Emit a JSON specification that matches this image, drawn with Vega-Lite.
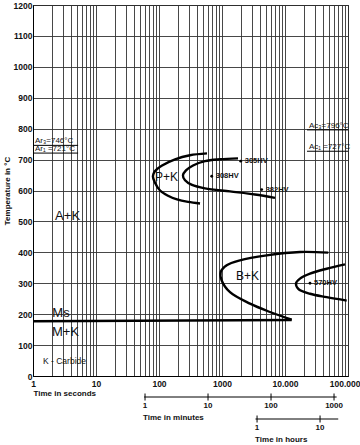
{
  "$schema": "https://vega.github.io/schema/vega-lite/v6.json",
  "padding": {"left": 2, "top": 0, "right": 0, "bottom": 0},
  "background": "white",
  "config": {
    "font": "Liberation Sans",
    "view": {"stroke": "#000", "strokeWidth": 1}
  },
  "spacing": 21,
  "bounds": "flush",
  "datasets": {
    "curves": [
      {"c": "pk1", "i": 1, "t": 578, "T": 720},
      {"c": "pk1", "i": 2, "t": 310, "T": 714},
      {"c": "pk1", "i": 3, "t": 180, "T": 701},
      {"c": "pk1", "i": 4, "t": 112, "T": 681},
      {"c": "pk1", "i": 5, "t": 86, "T": 662},
      {"c": "pk1", "i": 6, "t": 80, "T": 646},
      {"c": "pk1", "i": 7, "t": 86, "T": 626},
      {"c": "pk1", "i": 8, "t": 104, "T": 600},
      {"c": "pk1", "i": 9, "t": 139, "T": 583},
      {"c": "pk1", "i": 10, "t": 193, "T": 571},
      {"c": "pk1", "i": 11, "t": 289, "T": 563},
      {"c": "pk1", "i": 12, "t": 448, "T": 558},
      {"c": "pk2", "i": 1, "t": 1795, "T": 704},
      {"c": "pk2", "i": 2, "t": 929, "T": 701},
      {"c": "pk2", "i": 3, "t": 537, "T": 695},
      {"c": "pk2", "i": 4, "t": 347, "T": 681},
      {"c": "pk2", "i": 5, "t": 268, "T": 665},
      {"c": "pk2", "i": 6, "t": 240, "T": 649},
      {"c": "pk2", "i": 7, "t": 259, "T": 633},
      {"c": "pk2", "i": 8, "t": 334, "T": 618},
      {"c": "pk2", "i": 9, "t": 537, "T": 607},
      {"c": "pk2", "i": 10, "t": 1340, "T": 597},
      {"c": "pk2", "i": 11, "t": 3340, "T": 587},
      {"c": "pk2", "i": 12, "t": 6935, "T": 576},
      {"c": "bk1", "i": 1, "t": 48650, "T": 399},
      {"c": "bk1", "i": 2, "t": 17300, "T": 401},
      {"c": "bk1", "i": 3, "t": 5126, "T": 390},
      {"c": "bk1", "i": 4, "t": 1931, "T": 374},
      {"c": "bk1", "i": 5, "t": 1188, "T": 358},
      {"c": "bk1", "i": 6, "t": 953, "T": 336},
      {"c": "bk1", "i": 7, "t": 989, "T": 309},
      {"c": "bk1", "i": 8, "t": 1340, "T": 271},
      {"c": "bk1", "i": 9, "t": 2782, "T": 234},
      {"c": "bk1", "i": 10, "t": 5780, "T": 207},
      {"c": "bk1", "i": 11, "t": 12770, "T": 182},
      {"c": "bk2", "i": 1, "t": 89600, "T": 361},
      {"c": "bk2", "i": 2, "t": 45900, "T": 347},
      {"c": "bk2", "i": 3, "t": 24940, "T": 331},
      {"c": "bk2", "i": 4, "t": 17300, "T": 315},
      {"c": "bk2", "i": 5, "t": 14960, "T": 300},
      {"c": "bk2", "i": 6, "t": 16260, "T": 282},
      {"c": "bk2", "i": 7, "t": 24940, "T": 266},
      {"c": "bk2", "i": 8, "t": 45900, "T": 255},
      {"c": "bk2", "i": 9, "t": 95300, "T": 244},
      {"c": "ms", "i": 1, "t": 1, "T": 177},
      {"c": "ms", "i": 2, "t": 12770, "T": 181}
    ],
    "hardness": [
      {"label": "305HV", "t": 1982, "T": 695},
      {"label": "308HV", "t": 687, "T": 646},
      {"label": "382HV", "t": 4266, "T": 603},
      {"label": "570HV", "t": 24940, "T": 300}
    ],
    "regions": [
      {"label": "A+K", "t": 3.54, "T": 519},
      {"label": "Ms", "t": 2.78, "T": 204},
      {"label": "M+K", "t": 3.28, "T": 141}
    ],
    "fields": [
      {"label": "P+K", "t": 131.5, "T": 645},
      {"label": "B+K", "t": 2540, "T": 325}
    ],
    "notes": [
      {"label": "K - Carbide", "t": 3.16, "T": 47}
    ],
    "critical": [
      {"label": "Ar₃=746°C", "t": 1, "t2": 5.2, "T": 746},
      {"label": "Ar₁ =721°C", "t": 1, "t2": 5.2, "T": 721},
      {"label": "Ac₃=796°C", "t": 22340, "t2": 100000, "T": 796},
      {"label": "Ac₁ =727°C", "t": 22340, "t2": 100000, "T": 727}
    ],
    "timelines": [
      {"unit": "minutes", "s": 58, "s2": 66000},
      {"unit": "hours", "s": 3400, "s2": 70000}
    ],
    "timeticks": [
      {"unit": "minutes", "s": 60, "label": "1"},
      {"unit": "minutes", "s": 600, "label": "10"},
      {"unit": "minutes", "s": 6000, "label": "100"},
      {"unit": "minutes", "s": 60000, "label": "1000"},
      {"unit": "hours", "s": 3600, "label": "1"},
      {"unit": "hours", "s": 36000, "label": "10"}
    ],
    "timetitles": [
      {"unit": "minutes", "s": 60, "title": "Time in minutes"},
      {"unit": "hours", "s": 3600, "title": "Time in hours"}
    ]
  },
  "vconcat": [
    {
      "width": 315,
      "height": 371,
      "encoding": {
        "x": {
          "field": "t", "type": "quantitative",
          "scale": {"type": "log", "domain": [1, 100000], "nice": false},
          "axis": {
            "title": "Time in seconds",
            "values": [1,2,3,4,5,6,7,8,9,10,20,30,40,50,60,70,80,90,100,200,300,400,500,600,700,800,900,1000,2000,3000,4000,5000,6000,7000,8000,9000,10000,20000,30000,40000,50000,60000,70000,80000,90000,100000],
            "labelExpr": "datum.value == 10000 ? '10.000' : datum.value == 100000 ? '100.000' : (datum.value == 1 || datum.value == 10 || datum.value == 100 || datum.value == 1000) ? format(datum.value, 'd') : ''",
            "grid": true, "gridColor": "#333", "gridWidth": 0.9, "gridOpacity": 1,
            "ticks": false, "domainColor": "#000", "domainWidth": 1,
            "labelFont": "Liberation Sans Narrow, Liberation Sans", "labelFontSize": 8.5, "labelFontWeight": "bold", "labelColor": "#111",
            "labelAlign": {"condition": {"test": "datum.value == 100000", "value": "right"}, "value": "center"},
            "labelOffset": {"condition": {"test": "datum.value == 100000", "value": 12}, "value": 0},
            "labelPadding": 3, "labelOverlap": false, "labelFlush": false, "labelBound": false,
            "titleAnchor": "start", "titleAlign": "left", "titleFontSize": 8, "titleFontWeight": "bold",
            "titleColor": "#111", "titlePadding": 2
          }
        },
        "y": {
          "field": "T", "type": "quantitative",
          "scale": {"domain": [0, 1200], "nice": false},
          "axis": {
            "title": "Temperature in °C",
            "values": [0,100,200,300,400,500,600,700,800,900,1000,1100,1200],
            "format": "d",
            "grid": true, "gridColor": "#333", "gridWidth": 0.9, "gridOpacity": 1,
            "ticks": false, "domainColor": "#000", "domainWidth": 1,
            "labelFont": "Liberation Sans Narrow, Liberation Sans", "labelFontSize": 8.5, "labelFontWeight": "bold", "labelColor": "#111",
            "labelPadding": 1, "labelOverlap": false,
            "titleFontSize": 8, "titleFontWeight": "bold", "titleColor": "#111", "titlePadding": 2
          }
        }
      },
      "layer": [
        {
          "data": {"name": "curves"},
          "mark": {"type": "line", "interpolate": "catmull-rom", "color": "#000", "strokeWidth": 2.4},
          "encoding": {
            "detail": {"field": "c", "type": "nominal"},
            "order": {"field": "i", "type": "quantitative"}
          }
        },
        {
          "data": {"name": "critical"},
          "mark": {"type": "rule", "color": "#000", "strokeWidth": 1},
          "encoding": {"x2": {"field": "t2"}}
        },
        {
          "data": {"name": "critical"},
          "mark": {"type": "text", "align": "left", "baseline": "alphabetic", "dx": 2, "dy": -2, "fontSize": 8, "color": "#111"},
          "encoding": {"text": {"field": "label"}}
        },
        {
          "data": {"name": "hardness"},
          "mark": {"type": "point", "filled": true, "size": 8, "color": "#000", "opacity": 1},
          "encoding": {}
        },
        {
          "data": {"name": "hardness"},
          "mark": {"type": "text", "align": "left", "baseline": "middle", "dx": 4, "fontSize": 7.5, "fontWeight": "bold", "color": "#111"},
          "encoding": {"text": {"field": "label"}}
        },
        {
          "data": {"name": "regions"},
          "mark": {"type": "text", "align": "center", "baseline": "middle", "fontSize": 13, "color": "#111"},
          "encoding": {"text": {"field": "label"}}
        },
        {
          "data": {"name": "fields"},
          "mark": {"type": "text", "align": "center", "baseline": "middle", "fontSize": 12, "color": "#111"},
          "encoding": {"text": {"field": "label"}}
        },
        {
          "data": {"name": "notes"},
          "mark": {"type": "text", "align": "center", "baseline": "middle", "fontSize": 8.5, "color": "#111"},
          "encoding": {"text": {"field": "label"}}
        }
      ]
    },
    {
      "width": 315,
      "height": 22,
      "view": {"stroke": null},
      "encoding": {
        "x": {"field": "s", "type": "quantitative", "scale": {"type": "log", "domain": [1, 100000], "nice": false}, "axis": null},
        "y": {"field": "unit", "type": "nominal", "scale": {"type": "point", "domain": ["minutes", "hours"], "padding": 0}, "axis": null}
      },
      "layer": [
        {
          "data": {"name": "timelines"},
          "mark": {"type": "rule", "color": "#000", "strokeWidth": 1},
          "encoding": {"x2": {"field": "s2"}}
        },
        {
          "data": {"name": "timeticks"},
          "mark": {"type": "tick", "orient": "vertical", "size": 7, "thickness": 1, "color": "#000", "opacity": 1},
          "encoding": {}
        },
        {
          "data": {"name": "timeticks"},
          "mark": {"type": "text", "align": "center", "baseline": "middle", "dy": 8.5, "fontSize": 8, "fontWeight": "bold", "color": "#111"},
          "encoding": {"text": {"field": "label"}}
        },
        {
          "data": {"name": "timetitles"},
          "mark": {"type": "text", "align": "left", "baseline": "middle", "dx": -2, "dy": 21, "fontSize": 8, "fontWeight": "bold", "color": "#111"},
          "encoding": {"text": {"field": "title"}}
        }
      ]
    }
  ]
}
